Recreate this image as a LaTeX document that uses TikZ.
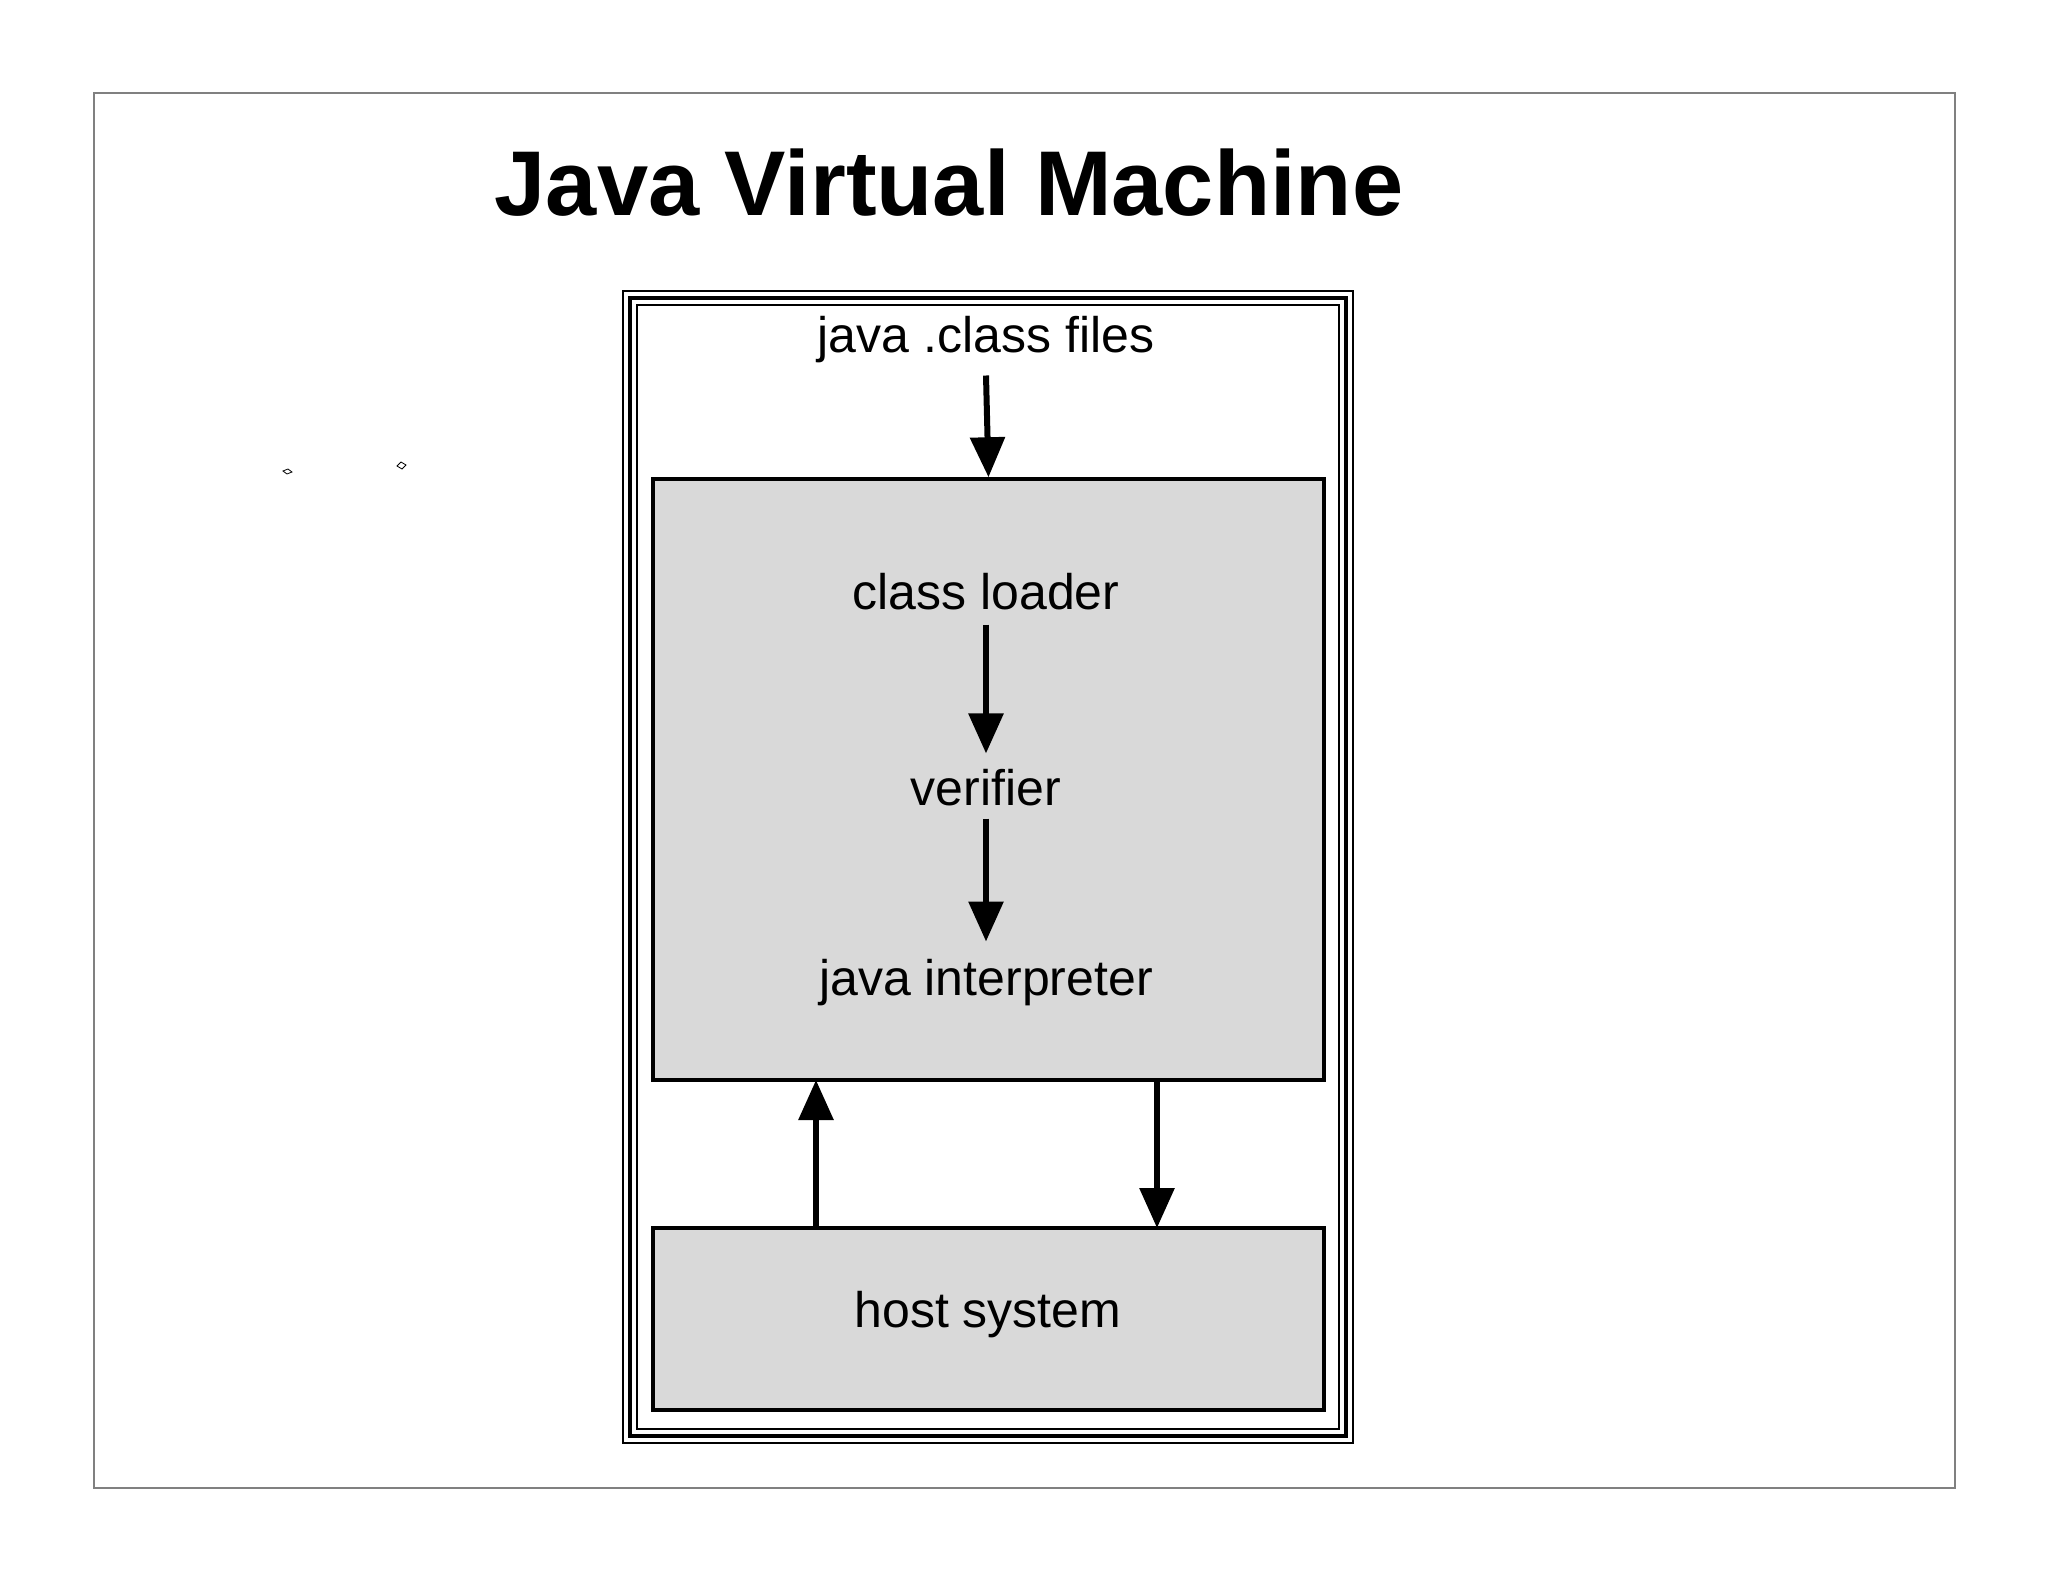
\documentclass[tikz,border=0pt]{standalone}
\usepackage{fontspec}
\setmainfont{Liberation Sans}
\usetikzlibrary{arrows.meta}
\begin{document}
\begin{tikzpicture}[x=1pt,y=-1pt,
  lbl/.style={font=\fontsize{50}{56}\selectfont, inner sep=0pt},
  box/.style={draw, line width=3.5pt, fill=gray!30, inner sep=0pt},
  arr/.style={line width=6pt, -{Triangle[length=40pt,width=34pt]}}]
\useasboundingbox (0,0) rectangle (2048,1582);
\draw[gray, line width=1.2pt] (94,93) rectangle (1955,1488);
\node[font=\fontsize{92}{100}\selectfont\bfseries] (title) at (949,183) {Java Virtual Machine};
% triple frame
\draw[line width=2pt] (623,291) rectangle (1353,1443);
\draw[line width=4.5pt] (630,298) rectangle (1346,1436);
\draw[line width=2pt] (637,305) rectangle (1339,1429);
\node[box, minimum width=671pt, minimum height=601pt] (vm) at (988.5,779.5) {};
\node[box, minimum width=671pt, minimum height=182pt] (host) at (988.5,1319) {};
\node[lbl] (files) at (986,340) {java .class files};
\node[lbl] (loader) at (986,592) {class loader};
\node[lbl] (verifier) at (986,788) {verifier};
\node[lbl] (interp) at (986,983) {java interpreter};
\node[lbl] at (988,1315) {host system};
\coordinate (upB) at (816,1228);
\coordinate (upT) at (816,1080);
\coordinate (dnT) at (1157,1080);
\coordinate (dnB) at (1157,1228);
\draw[arr] (files.south) ++(0,12) -- (vm.north);
\draw[arr, shorten <=14pt, shorten >=16pt] (loader.south) -- (verifier.north);
\draw[arr, shorten <=12pt, shorten >=18pt] (verifier.south) -- (interp.north);
\draw[arr] (upB) -- (upT);
\draw[arr] (dnT) -- (dnB);
% tiny marks
\draw[line width=0.8pt] (283,471) -- (288,469) -- (292,472) -- (287,474) -- cycle;
\draw[line width=0.8pt] (397,466) -- (401,462) -- (406,465) -- (402,469) -- cycle;
\end{tikzpicture}
\end{document}
